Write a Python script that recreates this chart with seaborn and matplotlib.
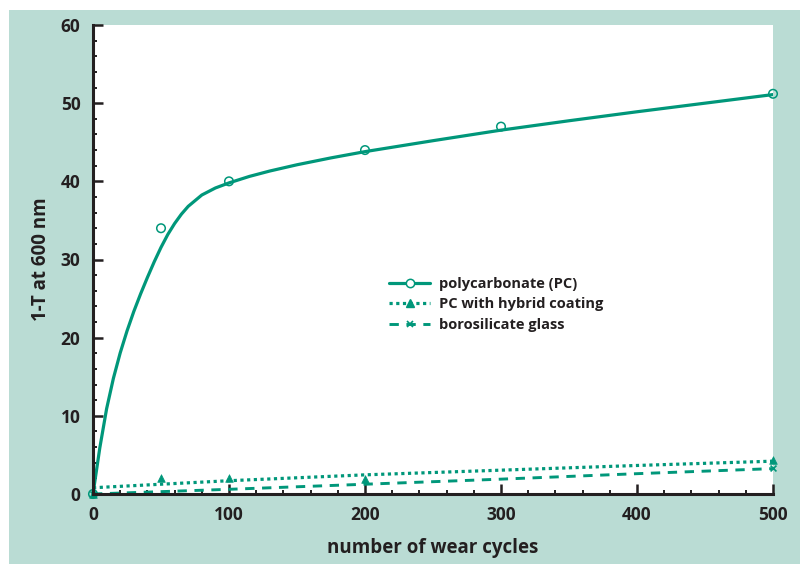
import matplotlib
matplotlib.use("Agg")
import matplotlib.pyplot as plt
from matplotlib.lines import Line2D
from matplotlib.patches import Rectangle
from matplotlib.ticker import MultipleLocator
import seaborn as sns
import pandas as pd

# Measured points
pc_x = [0, 50, 100, 200, 300, 500]
pc_y = [0, 34.0, 40.0, 44.0, 47.0, 51.2]
coat_x = [0, 50, 100, 200, 500]
coat_y = [0, 2.1, 2.0, 1.9, 4.3]
glass_x = [0, 500]
glass_y = [0, 3.3]

# Fitted trend curves
pc_fit_x = [0, 5, 10, 15, 20, 25, 30, 35, 40, 45, 50, 55, 60, 65, 70, 80, 90, 100,
            115, 130, 150, 175, 200, 250, 300, 350, 400, 450, 500]
pc_fit_y = [0, 5.9, 10.9, 14.8, 18.05, 20.85, 23.35, 25.6, 27.7, 29.7, 31.55,
            33.2, 34.6, 35.8, 36.8, 38.25, 39.15, 39.8, 40.63, 41.32, 42.12, 43.0,
            43.8, 45.2, 46.55, 47.75, 48.9, 50.0, 51.1]
coat_fit_x = [0, 100, 200, 300, 400, 500]
coat_fit_y = [0.8, 1.7, 2.45, 3.05, 3.65, 4.2]
glass_fit_x = [0, 100, 200, 300, 400, 500]
glass_fit_y = [0.0, 0.6, 1.25, 1.9, 2.6, 3.25]

labels = ["polycarbonate (PC)", "PC with hybrid coating", "borosilicate glass"]
x_ticks = [0, 100, 200, 300, 400, 500]
y_ticks = [0, 10, 20, 30, 40, 50, 60]

GREEN = "#00977a"
INK = "#231f20"
PANEL = "#badcd4"

sns.set_theme(style="ticks")
plt.rcParams["font.family"] = ["Open Sans", "DejaVu Sans"]
plt.rcParams["font.weight"] = "bold"

fig = plt.figure(figsize=(8, 5.64), dpi=100, facecolor="white")
fig.patches.append(Rectangle((9 / 800, 0), 1 - 9 / 800, 1 - 10 / 564,
                             transform=fig.transFigure, facecolor=PANEL,
                             edgecolor="none", zorder=-10))
ax = fig.add_axes([93 / 800, 1 - 494 / 564, 680 / 800, 469 / 564])
ax.set_facecolor("white")

fit = pd.DataFrame({"x": pc_fit_x, "y": pc_fit_y})
sns.lineplot(data=fit, x="x", y="y", ax=ax, color=GREEN, lw=2.3, zorder=3)
fit_c = pd.DataFrame({"x": coat_fit_x, "y": coat_fit_y})
sns.lineplot(data=fit_c, x="x", y="y", ax=ax, color=GREEN, lw=2.3,
             linestyle=(0, (1, 1.1)), zorder=3)
fit_g = pd.DataFrame({"x": glass_fit_x, "y": glass_fit_y})
sns.lineplot(data=fit_g, x="x", y="y", ax=ax, color=GREEN, lw=2.1,
             linestyle=(0, (3.2, 2.6)), zorder=3)

sns.scatterplot(x=pc_x, y=pc_y, ax=ax, marker="o", s=38, facecolor="none",
                edgecolor=GREEN, linewidth=1.1, zorder=4, clip_on=False)
sns.scatterplot(x=coat_x, y=coat_y, ax=ax, marker="^", s=30, color=GREEN,
                edgecolor=GREEN, linewidth=0.5, zorder=4, clip_on=False)
sns.scatterplot(x=glass_x, y=glass_y, ax=ax, marker="x", s=18, color=GREEN,
                linewidth=1.2, zorder=4, clip_on=False)

ax.set_xlim(0, 500)
ax.set_ylim(0, 60)
ax.set_xticks(x_ticks)
ax.set_yticks(y_ticks)
ax.xaxis.set_minor_locator(MultipleLocator(20))
ax.yaxis.set_minor_locator(MultipleLocator(2))
ax.tick_params(which="major", direction="in", length=7.5, width=1.8,
               color=INK, labelsize=12.5, labelcolor=INK, pad=9)
ax.tick_params(which="minor", direction="in", length=3, width=1.4, color=INK)
for lab in ax.get_xticklabels() + ax.get_yticklabels():
    lab.set_fontweight("bold")

for side in ["top", "right"]:
    ax.spines[side].set_visible(False)
for side in ["left", "bottom"]:
    ax.spines[side].set_linewidth(2.2)
    ax.spines[side].set_color(INK)
    ax.spines[side].set_zorder(5)

ax.set_xlabel("number of wear cycles", fontsize=13.5, fontweight="bold",
              color=INK, labelpad=10)
ax.set_ylabel("1-T at 600 nm", fontsize=13.5, fontweight="bold",
              color=INK, labelpad=7)

handles = [
    Line2D([], [], color=GREEN, lw=2.3, marker="o", markersize=6,
           markerfacecolor="white", markeredgecolor=GREEN, markeredgewidth=1.1),
    Line2D([], [], color=GREEN, lw=2.3, linestyle=(0, (1, 1.1)), marker="^",
           markersize=5.5),
    Line2D([], [], color=GREEN, lw=2.1, linestyle=(0, (3.2, 2.6)), marker="x",
           markersize=4.5, markeredgewidth=1.2),
]
leg = ax.legend(handles, labels, loc="upper left",
                bbox_to_anchor=(0.425, 0.479), frameon=False,
                handlelength=2.8, handletextpad=0.6, labelspacing=0.45,
                borderpad=0, prop={"size": 10.5, "weight": "bold"})
for t in leg.get_texts():
    t.set_color(INK)

fig.savefig("out.png", dpi=100, facecolor=fig.get_facecolor())
